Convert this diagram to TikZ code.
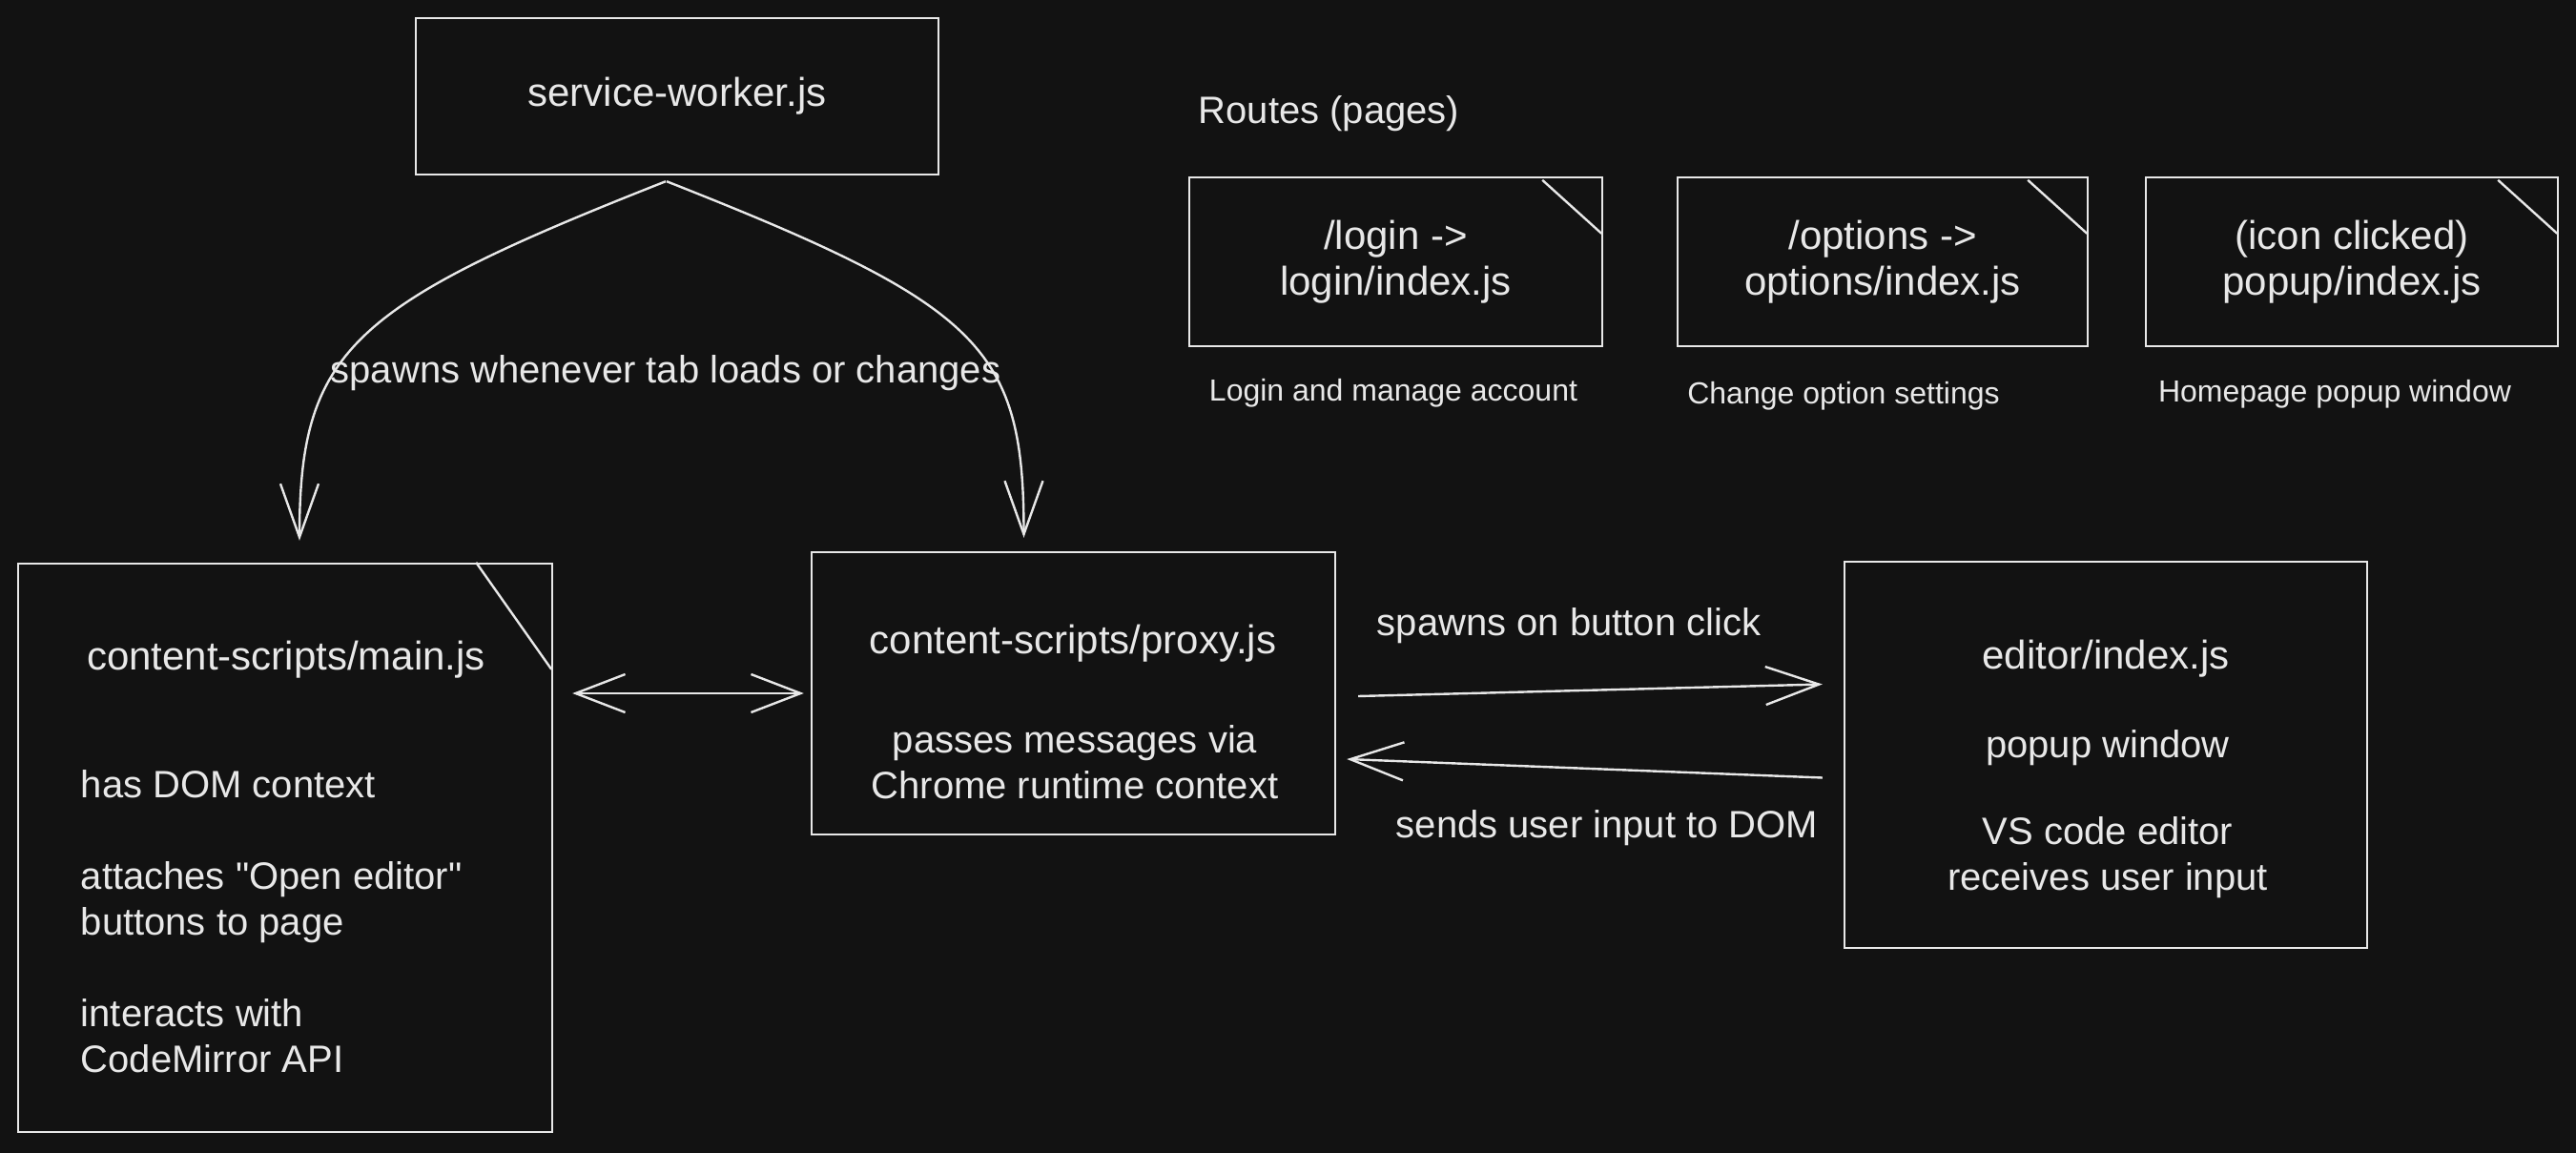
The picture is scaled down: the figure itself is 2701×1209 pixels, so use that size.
\documentclass[tikz,border=0pt]{standalone}
\usepackage{fontspec}
\setmainfont{Liberation Sans}
\usetikzlibrary{arrows.meta,calc}
\definecolor{bg}{HTML}{121212}
\definecolor{ink}{HTML}{E8E8E8}
\tikzset{
  box/.style={draw=ink, line width=0.6pt, inner sep=0pt},
  title/.style={text=ink, font=\fontsize{10.5}{12}\selectfont, align=center},
  txt/.style={text=ink, font=\fontsize{10}{12}\selectfont, align=center},
  note/.style={text=ink, font=\fontsize{8}{10}\selectfont},
  arr/.style={draw=ink, line width=0.6pt, -{Straight Barb[length=14pt,width=10pt]}},
  dbl/.style={draw=ink, line width=0.6pt, {Straight Barb[length=13pt,width=10pt]}-{Straight Barb[length=13pt,width=10pt]}},
}
\begin{document}
\begin{tikzpicture}[x=0.25pt,y=0.25pt,yscale=-1,xscale=1]
%background, also fixes the page size
\fill[bg] (0,0) rectangle (2701,1209);

%Shape: Rectangle [service worker]
\node[box, title, minimum width=137pt, minimum height=41pt] (sw) at (710,101) {service-worker.js};

% Text Node
\node[txt, anchor=west, inner sep=0pt] (routes) at (1256,119) {Routes (pages)};

%Shape: Rectangle [routes]
\node[box, title, minimum width=108.25pt, minimum height=44.25pt] (login) at (1463.5,274.5) {/login ->\\ login/index.js};
\node[box, title, minimum width=107.5pt, minimum height=44.25pt] (options) at (1974,274.5) {/options ->\\ options/index.js};
\node[box, title, minimum width=108pt, minimum height=44.25pt] (popup) at (2466,274.5) {(icon clicked)\\ popup/index.js};
%folded corners
\foreach \n in {login,options,popup}
  \draw[ink, line width=0.6pt] ($(\n.north east)+(-64,4)$) -- ($(\n.north east)+(-2,60)$);

% Text Node
\node[note] (loginnote) at (1461,412) {Login and manage account};
\node[note] (optionsnote) at (1933,415) {Change option settings};
\node[note] (popupnote) at (2448,413) {Homepage popup window};

%Shape: Rectangle [content scripts]
\node[box, minimum width=140pt, minimum height=149pt] (main) at (299,889) {};
\draw[ink, line width=0.6pt] ($(main.north east)+(-81,0)$) -- ($(main.north east)+(-2,112)$);
\node[title] (maintitle) at (300,692) {content-scripts/main.js};
\node[txt, anchor=west, align=left, inner sep=0pt] (mainnote) at (84,966) {has DOM context\\[12pt] attaches \textquotedbl Open editor\textquotedbl\\ buttons to page\\[12pt] interacts with\\ CodeMirror API};

\node[box, minimum width=137.25pt, minimum height=74pt] (proxy) at (1125.5,727) {};
\node[title] (proxytitle) at (1125,675) {content-scripts/proxy.js};
\node[txt] (proxynote) at (1127,799) {passes messages via\\ Chrome runtime context};

%Shape: Rectangle [editor]
\node[box, minimum width=137pt, minimum height=101.25pt] (editor) at (2208,791.5) {};
\node[title] (editortitle) at (2208,691) {editor/index.js};
\node[txt] (editornote) at (2210,784) {popup window};
\node[txt] (editornote2) at (2210,899) {VS code editor\\ receives user input};

%Curved Lines [spawn]
\draw[arr] ($(sw.south)+(-12,6)$) .. controls ($(sw.south)+(-342,136)$) and ($(main.north)+(15,-223)$) .. ($(main.north)+(15,-23)$);
\draw[arr] ($(sw.south)+(-11,6)$) .. controls ($(sw.south)+(319,136)$) and ($(proxy.north)+(-52,-214)$) .. ($(proxy.north)+(-52,-14)$);
\node[txt] (spawnlabel) at (698,391) {spawns whenever tab loads or changes};

%Straight Lines
\draw[dbl, shorten <=5pt, shorten >=1.75pt] (proxy.west -| main.east) -- (proxy.west);
\draw[arr] ($(proxy.east)+(23,3)$) -- ($(editor.west)+(-22,-74)$);
\draw[arr] ($(editor.west)+(-22,24)$) -- ($(proxy.east)+(11,69)$);

% Text Node
\node[txt] (clicklabel) at (1645,656) {spawns on button click};
\node[txt] (sendlabel) at (1685,868) {sends user input to DOM};
\end{tikzpicture}
\end{document}
